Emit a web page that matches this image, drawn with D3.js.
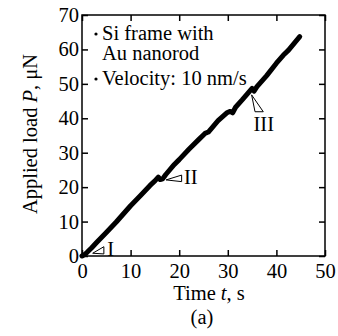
<!DOCTYPE html>
<html>
<head>
<meta charset="utf-8">
<script src="https://cdn.jsdelivr.net/npm/d3@7"></script>
<style>
body { margin: 0; background: #fff; }
text { font-family: "Liberation Serif", "DejaVu Serif", serif; fill: #000; }
</style>
</head>
<body>
<svg id="chart" width="338" height="336"></svg>
<script>
// load curve
const timeVals = [0, 0.5, 1, 2, 3, 5, 7, 10, 12, 14, 15, 15.7, 16.1, 16.6, 17.2, 19, 20, 22, 24, 25.3, 26, 28, 29.8, 30.5, 31, 31.6, 33, 34.2, 35, 35.4, 36, 38, 40, 41.4, 42.5, 44.8];
const loadVals = [0, 0.4, 1, 2.4, 3.9, 6.8, 9.8, 14.6, 17.5, 20.5, 21.8, 22.9, 22.2, 22.4, 23.6, 26.6, 28, 31, 33.8, 35.6, 36, 39.3, 41.6, 42, 41.6, 43.2, 45.4, 47.4, 48.7, 47.9, 49.2, 52.4, 56, 58.3, 59.8, 63.7];

const xTicks = [0, 10, 20, 30, 40, 50];
const yTicks = [0, 10, 20, 30, 40, 50, 60, 70];

// stage markers: apex point, two base points, label
const markerNames = ["I", "II", "III"];
const markerApex = [[2.2, 0.8], [17.3, 22.1], [34.9, 46.8]];
const markerBase = [[[4.5, 2.7], [4.5, 0.6]], [[20.5, 23.5], [20.5, 21.6]], [[35.6, 41.9], [37.3, 41.9]]];
const markerLabel = [[5.2, 2.2], [21.0, 23.0], [35.3, 38.4]];

const legendLines = ["Si frame with", "Au nanorod", "Velocity: 10 nm/s"];
const legendBullet = [true, false, true];
const legendBase = [40, 60, 85];

const _margin = {top: 15, right: 13, bottom: 80, left: 82};

const svg = d3.select("#chart");
const width = +svg.attr("width") - _margin.left - _margin.right;
const height = +svg.attr("height") - _margin.top - _margin.bottom;
const g = svg.append("g").attr("transform", "translate(" + _margin.left + "," + _margin.top + ")");

const x = d3.scaleLinear().domain([0, 50]).range([0, width]);
const y = d3.scaleLinear().domain([0, 70]).range([height, 0]);

const fs = "20.5px";

function styleAxis(sel, showText) {
    sel.select(".domain").remove();
    sel.selectAll(".tick line").attr("stroke", "#000").attr("stroke-width", 1.5);
    sel.selectAll(".tick text").style("font-size", fs);
    if (!showText) sel.selectAll(".tick text").remove();
}

// ticks point inward on all four sides
g.append("g").attr("transform", "translate(0," + height + ")")
    .call(d3.axisBottom(x).tickValues(xTicks).tickSize(-6).tickPadding(7))
    .call(a => styleAxis(a, true));
g.append("g")
    .call(d3.axisTop(x).tickValues(xTicks).tickSize(-6))
    .call(a => styleAxis(a, false));
g.append("g")
    .call(d3.axisLeft(y).tickValues(yTicks).tickSize(-6).tickPadding(3))
    .call(a => styleAxis(a, true));
g.append("g").attr("transform", "translate(" + width + ",0)")
    .call(d3.axisRight(y).tickValues(yTicks).tickSize(-6))
    .call(a => styleAxis(a, false));

g.append("rect").attr("width", width).attr("height", height)
    .attr("fill", "none").attr("stroke", "#000").attr("stroke-width", 1.5);

const data = timeVals.map((t, i) => ({t: t, p: loadVals[i]}));
const line = d3.line().x(d => x(d.t)).y(d => y(d.p));
g.append("path").datum(data)
    .attr("d", line)
    .attr("fill", "none").attr("stroke", "#000")
    .attr("stroke-width", 5).attr("stroke-linejoin", "round").attr("stroke-linecap", "round");

markerNames.forEach((name, i) => {
    const pts = [markerApex[i], markerBase[i][0], markerBase[i][1]].map(p => [x(p[0]), y(p[1])]);
    g.append("path").attr("d", "M" + pts.join("L") + "Z")
        .attr("fill", "#fff").attr("stroke", "#000").attr("stroke-width", 1);
    g.append("text").attr("x", x(markerLabel[i][0])).attr("y", y(markerLabel[i][1]))
        .attr("dy", "0.35em").style("font-size", fs).text(name);
});

legendLines.forEach((s, i) => {
    const ly = legendBase[i] - _margin.top;
    if (legendBullet[i]) {
        g.append("circle").attr("cx", 14).attr("cy", ly - 6).attr("r", 1.6).attr("fill", "#000");
    }
    g.append("text").attr("x", 20).attr("y", ly).style("font-size", fs).text(s);
});

svg.append("text").attr("x", 209).attr("y", 300)
    .attr("text-anchor", "middle").style("font-size", fs)
    .html('Time <tspan font-style="italic">t</tspan>, s');
svg.append("text").attr("x", 202).attr("y", 324)
    .attr("text-anchor", "middle").style("font-size", fs).text("(a)");
svg.append("text").attr("transform", "translate(37,134) rotate(-90)")
    .attr("text-anchor", "middle").style("font-size", fs)
    .html('Applied load <tspan font-style="italic">P</tspan>, μN');
</script>
</body>
</html>
